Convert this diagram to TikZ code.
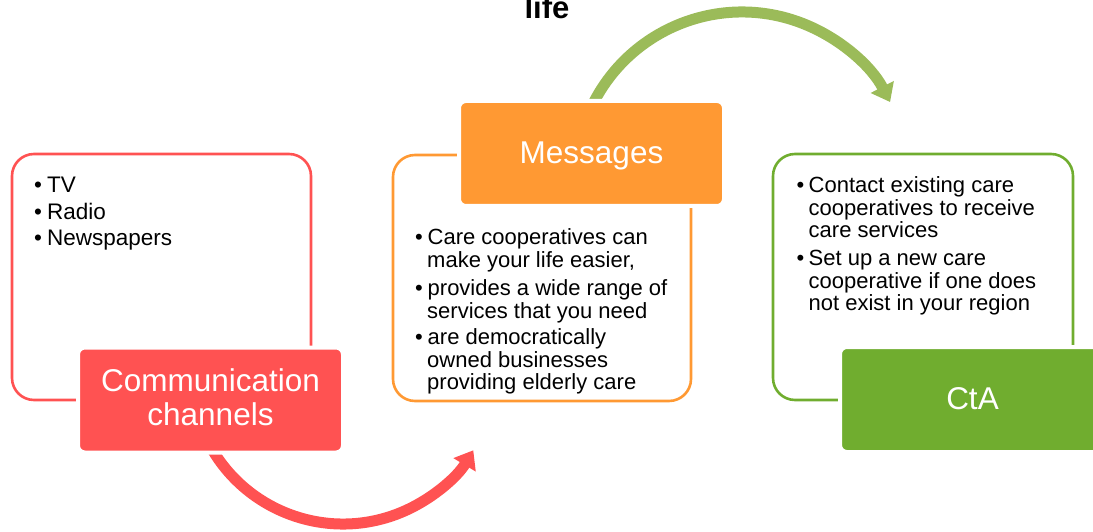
\documentclass[tikz,border=0pt]{standalone}
\usepackage{fontspec}
\setmainfont{Liberation Sans}
\usetikzlibrary{arrows.meta,calc}
\definecolor{cred}{RGB}{255,82,82}
\definecolor{corange}{RGB}{255,153,51}
\definecolor{cgreen}{RGB}{112,173,47}
\definecolor{carrow}{RGB}{155,187,89}
\newcommand{\mybul}[1]{\makebox[#1][l]{•}}
\begin{document}
\begin{tikzpicture}[x=1pt,y=1pt,
  outlinebox/.style={draw=#1, line width=2.6pt, rounded corners=22pt, inner sep=0pt,
    minimum width=299pt, minimum height=246pt},
  filledbox/.style={fill=#1, draw=white, line width=4pt, rounded corners=7pt, inner sep=0pt,
    minimum width=265pt, minimum height=105pt},
  headtxt/.style={anchor=base, inner sep=0pt, text=white, font=\fontsize{31.5}{33}\selectfont},
  ltxt/.style={anchor=base west, inner sep=0pt, font=\fontsize{22.5}{26}\selectfont},
  btxt/.style={anchor=base west, inner sep=0pt, font=\fontsize{22}{24}\selectfont},
  curvearrow/.style={draw=#1, line width=11pt, -{Triangle[length=17pt,width=25pt]}}
]
\useasboundingbox (0,0) rectangle (1093,531);

% title fragment
\node[anchor=base, inner sep=0pt, font=\bfseries\fontsize{31}{33}\selectfont] (title) at (547,512.7) {life};

% curved arrows (drawn first, partly hidden by boxes)
\coordinate (redc) at (343,159);
\coordinate (greenc) at (742,352.2);
\draw[curvearrow=cred] ($(redc)+(205:152)$) arc[start angle=205, end angle=329, radius=152];
\draw[curvearrow=carrow] ($(greenc)+(158:166.8)$) arc[start angle=158, end angle=27.4, radius=166.8];

% outline boxes
\node[outlinebox=cred] (lbox) at (161.5,254) {};
\node[outlinebox=corange, minimum width=298pt] (mbox) at (542,253) {};
\node[outlinebox=cgreen, minimum width=300pt] (rbox) at (923,254) {};

% filled title boxes
\node[filledbox=cred] (comm) at (210.5,131) {};
\node[filledbox=corange] (msgbox) at (591.5,377.5) {};
\node[filledbox=cgreen] (ctabox) at (972.5,131.5) {};

\node[headtxt] (comm1) at (210.5,139.3) {Communication};
\node[headtxt] (comm2) at (210.5,106) {channels};
\node[headtxt] (msg) at (591.5,367.7) {Messages};
\node[headtxt] (cta) at (972.5,121.7) {CtA};

% left list
\node[ltxt] (l1) at (34,338) {\mybul{13pt}TV};
\node[ltxt] (l2) at (34,311) {\mybul{13pt}Radio};
\node[ltxt] (l3) at (34,285) {\mybul{13pt}Newspapers};

% middle list
\node[btxt] (m1) at (415,286) {\mybul{12.5pt}Care cooperatives can};
\node[btxt] (m2) at (427,263) {make your life easier,};
\node[btxt] (m3) at (415,236) {\mybul{12.5pt}provides a wide range of};
\node[btxt] (m4) at (427,213) {services that you need};
\node[btxt] (m5) at (415,187) {\mybul{12.5pt}are democratically};
\node[btxt] (m6) at (427,164) {owned businesses};
\node[btxt] (m7) at (427,142) {providing elderly care};

% right list
\node[btxt] (r1) at (796.5,338) {\mybul{12pt}Contact existing care};
\node[btxt] (r2) at (808.5,315) {cooperatives to receive};
\node[btxt] (r3) at (808.5,293) {care services};
\node[btxt] (r4) at (796.5,265) {\mybul{12pt}Set up a new care};
\node[btxt] (r5) at (808.5,243) {cooperative if one does};
\node[btxt] (r6) at (808.5,220) {not exist in your region};
\end{tikzpicture}
\end{document}
